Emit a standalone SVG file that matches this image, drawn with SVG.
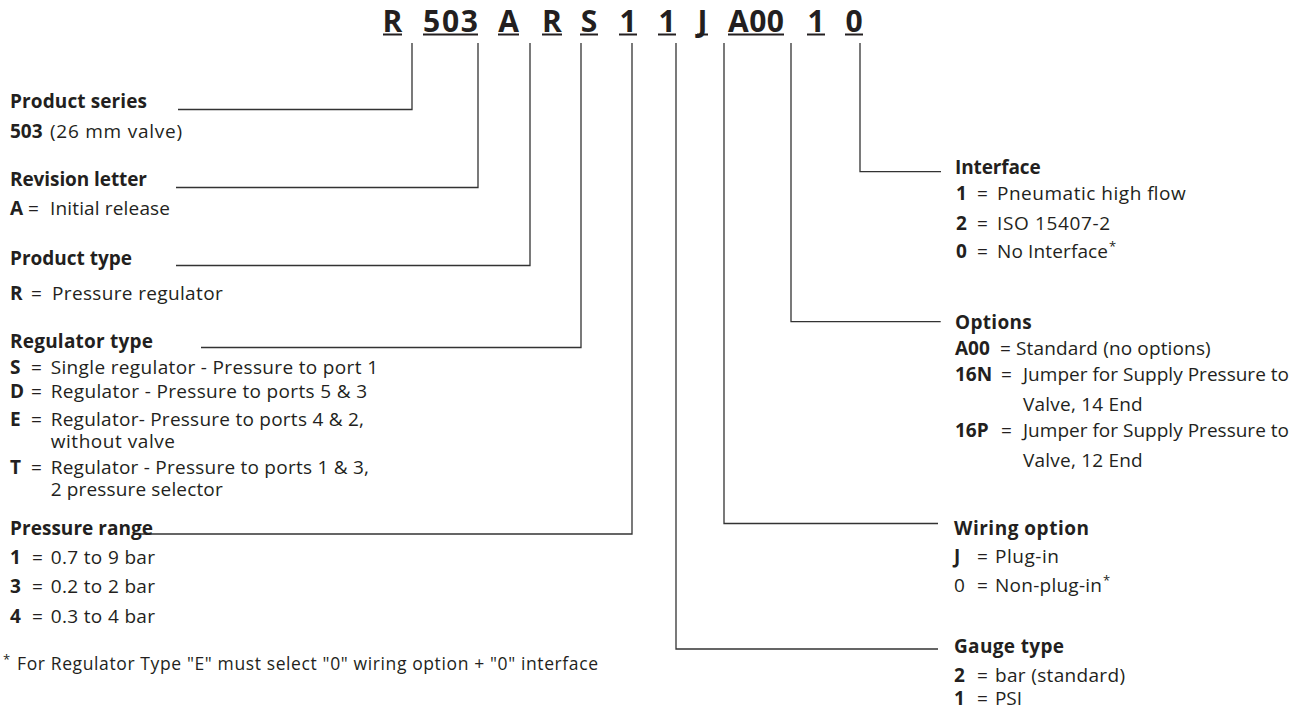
<svg xmlns="http://www.w3.org/2000/svg" width="1305" height="709" viewBox="0 0 1305 709">
<style>
.t{font-family:"Open Sans","Noto Sans","Liberation Sans",sans-serif;font-size:19px;fill:#231f20}
.b{font-weight:700}
.h{font-family:"Open Sans","Noto Sans","Liberation Sans",sans-serif;font-size:30px;font-weight:700;fill:#231f20;text-anchor:middle}
.ln{fill:none;stroke:#333;stroke-width:1.3}
.ul{stroke:#231f20;stroke-width:2}
.fn{font-family:"Open Sans","Noto Sans","Liberation Sans",sans-serif;font-size:17.5px;fill:#231f20}
.sup{font-size:13px}
</style>
<rect width="1305" height="709" fill="#fff"/>
<g id="code">
<text class="h" x="392.5" y="31.5">R</text>
<text class="h" x="450.5" y="31.5" textLength="55">503</text>
<text class="h" x="508.5" y="31.5">A</text>
<text class="h" x="552" y="31.5">R</text>
<text class="h" x="589" y="31.5">S</text>
<text class="h" x="628" y="31.5">1</text>
<text class="h" x="667" y="31.5">1</text>
<text class="h" x="702.5" y="31.5">J</text>
<text class="h" x="756" y="31.5" textLength="56">A00</text>
<text class="h" x="816" y="31.5">1</text>
<text class="h" x="854" y="31.5">0</text>
<g class="ul">
<line x1="383" y1="34.5" x2="402" y2="34.5"/>
<line x1="423" y1="34.5" x2="478" y2="34.5"/>
<line x1="498" y1="34.5" x2="519" y2="34.5"/>
<line x1="542" y1="34.5" x2="562" y2="34.5"/>
<line x1="580" y1="34.5" x2="598" y2="34.5"/>
<line x1="619" y1="34.5" x2="637" y2="34.5"/>
<line x1="658" y1="34.5" x2="676" y2="34.5"/>
<line x1="697" y1="34.5" x2="708" y2="34.5"/>
<line x1="728" y1="34.5" x2="784" y2="34.5"/>
<line x1="807" y1="34.5" x2="825" y2="34.5"/>
<line x1="845" y1="34.5" x2="863" y2="34.5"/>
</g>
</g>
<g id="connectors" class="ln">
<path d="M412,43 V109.5 H178"/>
<path d="M478,43 V187.5 H176"/>
<path d="M530,43 V265.5 H176"/>
<path d="M581,43 V347.5 H201"/>
<path d="M632,43 V534 H140"/>
<path d="M676,43 V649 H938"/>
<path d="M724,43 V523.5 H938"/>
<path d="M791,43 V321.7 H940.7"/>
<path d="M860,43 V171.7 H941"/>
</g>
<g id="product-series">
<text class="t b" x="10" y="107.5" textLength="137">Product series</text>
<text class="t b" x="10" y="138">503</text>
<text class="t" x="50" y="138" textLength="132">(26 mm valve)</text>
</g>
<g id="revision-letter">
<text class="t b" x="10" y="186" textLength="137">Revision letter</text>
<text class="t b" x="10" y="215">A</text>
<text class="t" x="28" y="215">=</text>
<text class="t" x="50" y="215" textLength="120">Initial release</text>
</g>
<g id="product-type">
<text class="t b" x="10" y="264.5">Product type</text>
<text class="t b" x="10" y="300">R</text>
<text class="t" x="31" y="300">=</text>
<text class="t" x="52" y="300" textLength="170.7">Pressure regulator</text>
</g>
<g id="regulator-type">
<text class="t b" x="10" y="348" textLength="143">Regulator type</text>
<text class="t b" x="10" y="374">S</text>
<text class="t" x="31" y="374">=</text>
<text class="t" x="50.7" y="374" textLength="327.3">Single regulator - Pressure to port 1</text>
<text class="t b" x="10" y="398">D</text>
<text class="t" x="31" y="398">=</text>
<text class="t" x="50.7" y="398" textLength="316.3">Regulator - Pressure to ports 5 &amp; 3</text>
<text class="t b" x="10" y="425.5">E</text>
<text class="t" x="31" y="425.5">=</text>
<text class="t" x="50.7" y="425.5" textLength="313.3">Regulator- Pressure to ports 4 &amp; 2,</text>
<text class="t" x="50.7" y="448" textLength="124.3">without valve</text>
<text class="t b" x="10" y="474">T</text>
<text class="t" x="31" y="474">=</text>
<text class="t" x="50.7" y="474" textLength="318.3">Regulator - Pressure to ports 1 &amp; 3,</text>
<text class="t" x="50.7" y="496" textLength="172">2 pressure selector</text>
</g>
<g id="pressure-range">
<text class="t b" x="10" y="535" textLength="143">Pressure range</text>
<text class="t b" x="10" y="564">1</text>
<text class="t" x="32" y="564">=</text>
<text class="t" x="50.7" y="564" textLength="104.3">0.7 to 9 bar</text>
<text class="t b" x="10" y="593">3</text>
<text class="t" x="32" y="593">=</text>
<text class="t" x="50.7" y="593" textLength="104.3">0.2 to 2 bar</text>
<text class="t b" x="10" y="623">4</text>
<text class="t" x="32" y="623">=</text>
<text class="t" x="50.7" y="623" textLength="104.3">0.3 to 4 bar</text>
</g>
<g id="footnote">
<text class="fn sup" x="3" y="664">*</text>
<text class="fn" x="17" y="670" textLength="581">For Regulator Type "E" must select "0" wiring option + "0" interface</text>
</g>
<g id="interface">
<text class="t b" x="955" y="174.3" textLength="85.7">Interface</text>
<text class="t b" x="956" y="200">1</text>
<text class="t" x="977" y="200">=</text>
<text class="t" x="997" y="200" textLength="188.7">Pneumatic high flow</text>
<text class="t b" x="956" y="230">2</text>
<text class="t" x="977" y="230">=</text>
<text class="t" x="997" y="230" textLength="113">ISO 15407-2</text>
<text class="t b" x="956" y="258.3">0</text>
<text class="t" x="977" y="258.3">=</text>
<text class="t" x="997" y="258.3" textLength="111">No Interface</text>
<text class="t sup" x="1109" y="251">*</text>
</g>
<g id="options">
<text class="t b" x="955" y="329.3" textLength="76.7">Options</text>
<text class="t b" x="955" y="355">A00</text>
<text class="t" x="1000" y="355">=</text>
<text class="t" x="1016" y="355" textLength="194.7">Standard (no options)</text>
<text class="t b" x="955" y="380.7">16N</text>
<text class="t" x="1001" y="380.7">=</text>
<text class="t" x="1023" y="380.7" textLength="266">Jumper for Supply Pressure to</text>
<text class="t" x="1023" y="410.7" textLength="119.7">Valve, 14 End</text>
<text class="t b" x="955" y="437">16P</text>
<text class="t" x="1001" y="437">=</text>
<text class="t" x="1023" y="437" textLength="266">Jumper for Supply Pressure to</text>
<text class="t" x="1023" y="466.5" textLength="119.7">Valve, 12 End</text>
</g>
<g id="wiring-option">
<text class="t b" x="954" y="535" textLength="135">Wiring option</text>
<text class="t b" x="954" y="563">J</text>
<text class="t" x="977" y="563">=</text>
<text class="t" x="995" y="563" textLength="64">Plug-in</text>
<text class="t" x="954" y="591.7">0</text>
<text class="t" x="977" y="591.7">=</text>
<text class="t" x="995" y="591.7" textLength="107">Non-plug-in</text>
<text class="t sup" x="1103" y="584.5">*</text>
</g>
<g id="gauge-type">
<text class="t b" x="954" y="653" textLength="110">Gauge type</text>
<text class="t b" x="954" y="681.7">2</text>
<text class="t" x="977" y="681.7">=</text>
<text class="t" x="995" y="681.7" textLength="130">bar (standard)</text>
<text class="t b" x="954" y="705">1</text>
<text class="t" x="977" y="705">=</text>
<text class="t" x="995" y="705" textLength="27">PSI</text>
</g>
</svg>
